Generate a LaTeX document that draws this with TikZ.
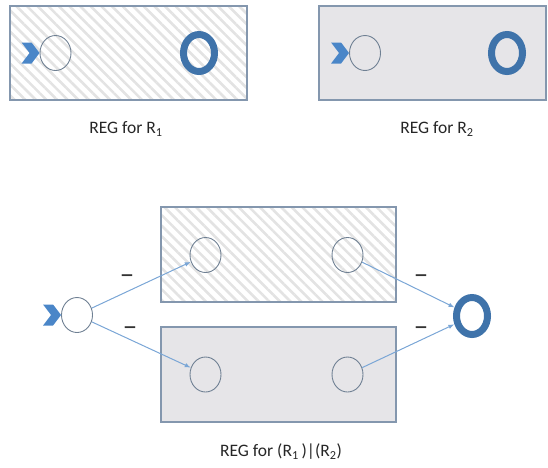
\documentclass[tikz,border=0pt]{standalone}
\usepackage{fontspec}
\setmainfont{Carlito}
\usetikzlibrary{shapes.geometric}
\usetikzlibrary{patterns.meta}
\usetikzlibrary{arrows.meta}
\definecolor{boxline}{HTML}{8497AE}
\definecolor{boxgray}{HTML}{E6E5E8}
\definecolor{hatch}{HTML}{E3E3E3}
\definecolor{stateline}{HTML}{6F8093}
\definecolor{acceptblue}{HTML}{3F73AA}
\definecolor{startblue}{HTML}{4A86C8}
\definecolor{edgeblue}{HTML}{7AA6D6}
\tikzset{
    hatchbox/.style = {rectangle, draw=boxline, line width=1.4pt, inner sep=0pt,
        pattern={Lines[angle=-45,distance=7.5pt,line width=2.6pt]}, pattern color=hatch},
    graybox/.style = {rectangle, draw=boxline, line width=1.4pt, inner sep=0pt, fill=boxgray},
    state/.style = {ellipse, draw=stateline, line width=0.9pt, inner sep=0pt,
        minimum width=31pt, minimum height=35pt},
    accept/.style = {ellipse, draw=acceptblue, line width=7pt, inner sep=0pt,
        minimum width=31pt, minimum height=37pt},
    startmark/.style = {fill=startblue},
    edgen/.style = {-{Latex[length=6pt,width=4.5pt]}, edgeblue, line width=1pt},
    caption/.style = {font=\fontsize{17.5}{20}\selectfont, text=black!85},
    sign/.style = {font=\fontsize{28}{28}\selectfont, text=black!80, inner sep=0pt}
}

\begin{document}
\begin{tikzpicture}[x=1pt,y=-1pt]
\path[use as bounding box] (0,0) rectangle (548,467);
%
% REG for R1
\node[hatchbox, minimum width=237pt, minimum height=94pt] at (128.5,53) (boxa) {};
\node[state] at (55.5,53) (a0) {};
\node[accept] at (199,53) (a1) {};
\fill[startmark] (a0.west) -- ++(-8,-10.5) -- ++(-10,0) -- ++(8,10.5) -- ++(-8,10.5) -- ++(10,0) -- cycle;
\node[caption] at (126,129) (capa) {REG for R\textsubscript{1}};
%
% REG for R2
\node[graybox, minimum width=227pt, minimum height=94pt] at (432.5,53) (boxb) {};
\node[state] at (365,53) (b0) {};
\node[accept] at (507,53) (b1) {};
\fill[startmark] (b0.west) -- ++(-8,-10.5) -- ++(-10,0) -- ++(8,10.5) -- ++(-8,10.5) -- ++(10,0) -- cycle;
\node[caption] at (437,129) (capb) {REG for R\textsubscript{2}};
%
% REG for (R1)|(R2)
\node[hatchbox, minimum width=235pt, minimum height=95pt] at (278.5,254.5) (boxc) {};
\node[graybox, minimum width=235pt, minimum height=95pt] at (278.5,374.5) (boxd) {};
\node[state] at (77,315) (s) {};
\node[state] at (205.5,255) (c0) {};
\node[state] at (347.5,255) (c1) {};
\node[state] at (205.5,374.5) (d0) {};
\node[state] at (347.5,374.5) (d1) {};
\node[accept] at (472,316) (f) {};
\fill[startmark] (s.west) -- ++(-8,-10.5) -- ++(-10,0) -- ++(8,10.5) -- ++(-8,10.5) -- ++(10,0) -- cycle;
%
\draw[edgen] (s) edge (c0);
\draw[edgen] (s) edge (d0);
\draw[edgen] (c1) edge (f);
\draw[edgen] (d1) edge (f);
%
\node[sign] at (127,280) (e1) {−};
\node[sign] at (130,332) (e2) {−};
\node[sign] at (421,280) (e3) {−};
\node[sign] at (421,332) (e4) {−};
%
\node[caption] at (281,452) (capc) {REG for (R\textsubscript{1}\,)|(R\textsubscript{2})};

\end{tikzpicture}
\end{document}
